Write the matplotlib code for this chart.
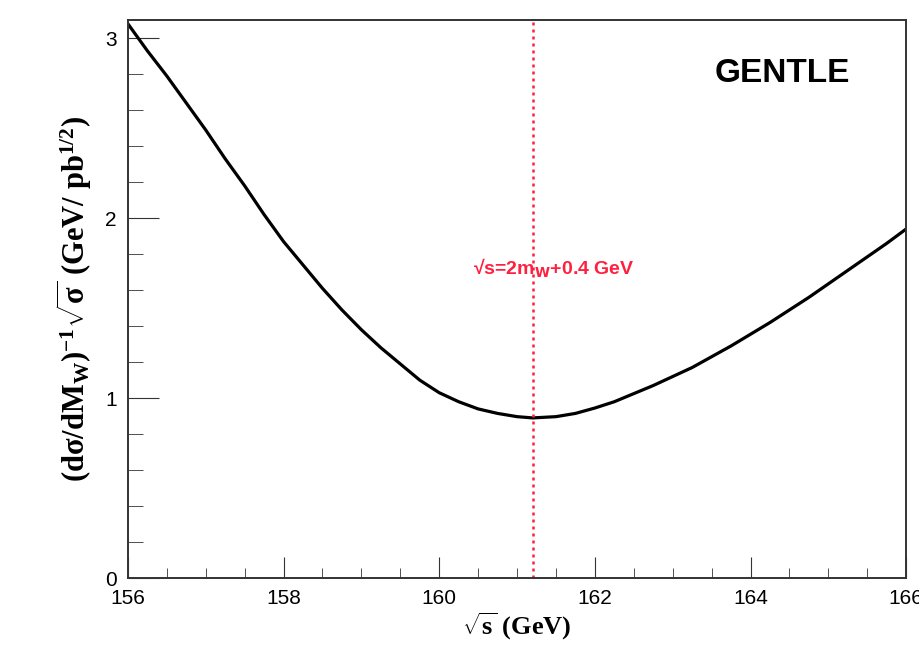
import numpy as np
import matplotlib.pyplot as plt
from matplotlib.ticker import MultipleLocator

# curve
sqrt_s = [156.0, 156.25, 156.5, 156.75, 157.0, 157.25, 157.5, 157.75, 158.0,
          158.25, 158.5, 158.75, 159.0, 159.25, 159.5, 159.75, 160.0, 160.25,
          160.5, 160.75, 161.0, 161.2, 161.5, 161.75, 162.0, 162.25, 162.5,
          162.75, 163.0, 163.25, 163.5, 163.75, 164.0, 164.25, 164.5, 164.75,
          165.0, 165.25, 165.5, 165.75, 166.0]
ratio = [3.08, 2.93, 2.79, 2.64, 2.49, 2.33, 2.18, 2.02, 1.87,
         1.74, 1.61, 1.49, 1.38, 1.28, 1.19, 1.10, 1.03, 0.98,
         0.94, 0.915, 0.897, 0.890, 0.897, 0.915, 0.945, 0.98, 1.025,
         1.07, 1.12, 1.17, 1.23, 1.29, 1.355, 1.42, 1.49, 1.56,
         1.635, 1.71, 1.785, 1.86, 1.94]
threshold = 161.2

plt.rcParams['mathtext.fontset'] = 'custom'
plt.rcParams['mathtext.rm'] = 'Liberation Serif:bold'
plt.rcParams['mathtext.bf'] = 'Liberation Serif:bold'
plt.rcParams['mathtext.it'] = 'Liberation Serif:bold:italic'
plt.rcParams['font.family'] = ['Liberation Sans', 'DejaVu Sans']

fig = plt.figure(figsize=(9.2, 6.51), dpi=100)
ax = fig.add_axes([0.139, 0.112, 0.846, 0.857])

ax.plot(sqrt_s, ratio, color='black', lw=2.3, solid_joinstyle='round')
ax.axvline(threshold, color='#ff2040', lw=1.8, ls=(0, (1.2, 1.6)))

ax.set_xlim(156, 166)
ax.set_ylim(0, 3.1)
ax.xaxis.set_major_locator(MultipleLocator(2))
ax.xaxis.set_minor_locator(MultipleLocator(0.5))
ax.yaxis.set_major_locator(MultipleLocator(1))
ax.yaxis.set_minor_locator(MultipleLocator(0.2))
ax.tick_params(which='both', direction='in', top=False, right=False,
               labelsize=15, color='#333333')
ax.tick_params(axis='x', which='major', length=15, pad=8)
ax.tick_params(axis='x', which='minor', length=7)
ax.tick_params(axis='y', which='major', length=22, pad=8)
ax.tick_params(axis='y', which='minor', length=11)
for sp in ax.spines.values():
    sp.set_linewidth(1.4)
    sp.set_color('#333333')

ax.set_xlabel(r'$\mathbf{\sqrt{s}\ (GeV)}$', fontsize=19, labelpad=2)
ax.set_ylabel(r'$\mathbf{(d\sigma/dM_{W})^{-1}\sqrt{\sigma}\ (GeV/\ pb^{1/2})}$',
              fontsize=22, labelpad=8)

ax.text(0.928, 0.905, 'GENTLE', transform=ax.transAxes, fontsize=24,
        fontweight='bold', ha='right', va='center')
ax.text(160.43, 1.72, r'√s=2m$_\mathbf{W}$+0.4 GeV', color='#ff2040',
        fontsize=14, fontweight='bold', ha='left', va='center',
        math_fontfamily='dejavusans')

fig.savefig('out.png', dpi=100)
